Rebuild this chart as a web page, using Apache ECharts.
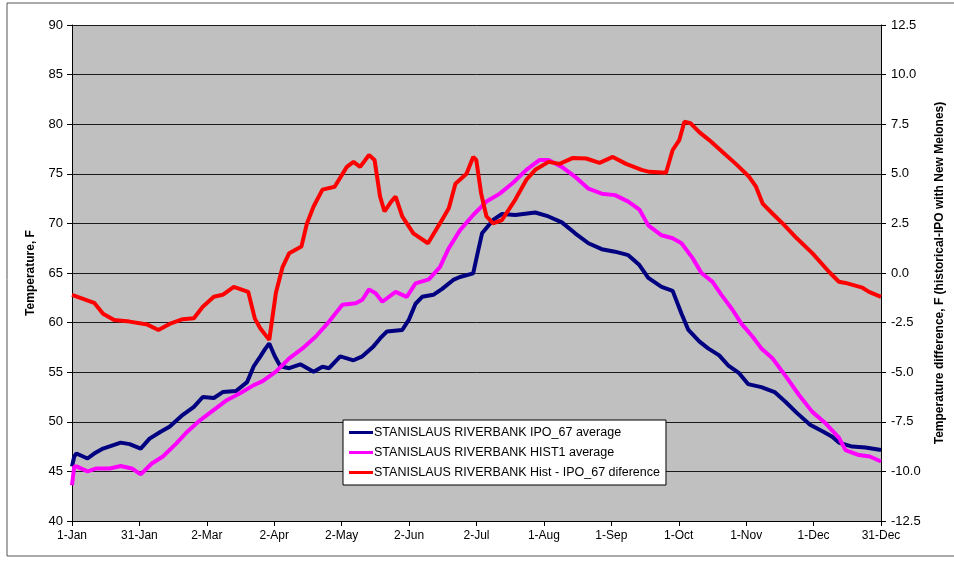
<!DOCTYPE html>
<html>
<head>
<meta charset="utf-8">
<script src="https://cdn.jsdelivr.net/npm/echarts@6/dist/echarts.min.js"></script>
<style>
  html, body { margin: 0; padding: 0; background: #fff; }
  #chart { width: 954px; height: 562px; }
</style>
</head>
<body>
<div id="chart"></div>
<script>
// x tick labels, one every 365/12 days
var xLabels = ['1-Jan','31-Jan','2-Mar','2-Apr','2-May','2-Jun','2-Jul','1-Aug','1-Sep','1-Oct','1-Nov','1-Dec','31-Dec'];

// IPO_67 average (F)
var ipoDays = [0,1,2,7,10,14,22,26,31,35,40,44,50,55,59,64,68,74,79,82,85,87,89,91.5,94,98,103,109,113,116,121,127,131,136,139,142,149,152,155,158,163,167,172,175,181,183,185,190,194,200,209,215,221,227,233,239,245,251,256,260,266,271,275,278,283,287,292,296,301,305,311,317,322,327,333,339,343,346,352,358,365];
var ipoTemp = [45.5,46.5,46.8,46.3,46.8,47.3,47.9,47.75,47.3,48.3,49.0,49.5,50.7,51.5,52.5,52.4,53.0,53.1,54.0,55.6,56.6,57.3,57.9,56.6,55.6,55.4,55.8,55.05,55.55,55.4,56.6,56.2,56.6,57.6,58.4,59.1,59.25,60.3,61.9,62.6,62.8,63.4,64.3,64.6,64.96,67.0,69.0,70.35,70.95,70.85,71.1,70.7,70.1,69.0,68.0,67.4,67.15,66.8,65.8,64.5,63.6,63.2,60.9,59.3,58.1,57.4,56.7,55.7,54.9,53.8,53.5,53.0,52.0,50.9,49.7,49.0,48.5,47.9,47.5,47.4,47.15];

// HIST1 average (F)
var histDays = [0,1,2,7,11,17,22,27,31,36,41,47,52,58,64,70,76,82,86,92,98,104,110,116,122,128,131,134,137,140,146,151,155,161,166,170,175,181,187,193,199,205,211,215,221,227,233,239,245,251,256,260,266,271,275,280,284,289,293,298,302,307,311,316,322,328,334,340,346,349,355,360,365];
var histTemp = [43.6,45.5,45.5,45.0,45.3,45.3,45.55,45.3,44.7,45.8,46.5,47.8,49.0,50.2,51.2,52.2,52.9,53.7,54.1,55.05,56.4,57.4,58.6,60.1,61.8,61.95,62.3,63.35,62.95,62.1,63.1,62.6,63.95,64.35,65.6,67.5,69.3,70.85,72.2,73.0,74.1,75.4,76.4,76.4,75.7,74.7,73.5,73.0,72.85,72.2,71.4,69.8,68.8,68.5,68.0,66.5,65.0,64.1,62.8,61.3,59.9,58.6,57.4,56.4,54.6,52.7,51.0,49.85,48.4,47.15,46.65,46.5,46.0];

// Hist - IPO_67 difference (F, right axis)
var diffDays = [0,10,14,19,26,34,39,44,50,55,59,64,68,73,79.5,82.5,85,89,92,95,98,103.5,106,109,113,118.5,124,127,130,134,136.5,139,141,144,146,149,154,160.6,166,170,173,178,181,182.4,184.6,187,190,194,200,205,209,215,220,226,232,238,244,250,257,260.5,268,271,274,276.3,279,283,287.5,293.5,299.5,305.5,308.6,311.6,316,320.6,327,334,341.6,346,349,356.6,359.6,365];
var diffVal = [-1.1,-1.5,-2.05,-2.37,-2.45,-2.6,-2.87,-2.57,-2.33,-2.28,-1.7,-1.2,-1.1,-0.7,-0.95,-2.3,-2.8,-3.37,-1.0,0.3,1.0,1.33,2.5,3.35,4.2,4.35,5.35,5.6,5.35,5.95,5.7,3.85,3.1,3.6,3.85,2.85,2.0,1.5,2.5,3.26,4.5,5.0,5.85,5.7,4.0,2.85,2.5,2.67,3.7,4.7,5.2,5.6,5.5,5.8,5.77,5.55,5.85,5.5,5.2,5.1,5.05,6.2,6.7,7.62,7.55,7.1,6.7,6.1,5.5,4.85,4.35,3.5,3.0,2.5,1.75,1.0,0.05,-0.44,-0.5,-0.74,-0.95,-1.2];

function pairs(xs, ys) {
    var out = [];
    for (var i = 0; i < xs.length; i++) out.push([xs[i], ys[i]]);
    return out;
}

var step = 365 / 12;
var font = 'Liberation Sans, Arial, sans-serif';

var chart = echarts.init(document.getElementById('chart'), null, {renderer: 'canvas'});
chart.setOption({
    animation: false,
    backgroundColor: '#fff',
    textStyle: {fontFamily: font},
    graphic: [{
        type: 'rect',
        shape: {x: 7, y: 3, width: 960, height: 553},
        style: {fill: null, stroke: '#555', lineWidth: 1},
        z: -1
    }],
    grid: {
        left: 72, right: 69, top: 25, bottom: 41,
        show: true,
        backgroundColor: '#c0c0c0',
        borderWidth: 0
    },
    legend: {
        orient: 'vertical',
        left: 343, top: 420,
        backgroundColor: '#fff',
        borderColor: '#000',
        borderWidth: 1,
        padding: [6, 6, 6, 6],
        itemGap: 7,
        itemWidth: 24,
        itemHeight: 3,
        icon: 'rect',
        textStyle: {fontSize: 12.5, color: '#000', fontFamily: font, padding: [0, 0, 0, -4]},
        data: ['STANISLAUS RIVERBANK IPO_67 average', 'STANISLAUS RIVERBANK HIST1 average', 'STANISLAUS RIVERBANK Hist - IPO_67 diference']
    },
    xAxis: {
        type: 'value',
        min: 0, max: 365, interval: step,
        axisLine: {show: true, onZero: false, lineStyle: {color: '#000', width: 1}},
        axisTick: {show: true, length: 5, lineStyle: {color: '#000'}},
        splitLine: {show: false},
        axisLabel: {
            color: '#000', fontSize: 12, margin: 9, fontFamily: font,
            formatter: function (v) { return xLabels[Math.round(v / step)]; }
        }
    },
    yAxis: [{
        type: 'value',
        min: 40, max: 90, interval: 5,
        name: 'Temperature, F',
        nameLocation: 'middle',
        nameRotate: 90,
        nameGap: 35,
        nameTextStyle: {fontWeight: 'bold', fontSize: 12, color: '#000', fontFamily: font},
        axisLine: {show: true, lineStyle: {color: '#000'}},
        axisTick: {show: true, length: 5, lineStyle: {color: '#000'}},
        axisLabel: {color: '#000', fontSize: 13, margin: 9, fontFamily: font},
        splitLine: {show: true, lineStyle: {color: '#1a1a1a', width: 1}}
    }, {
        type: 'value',
        min: -12.5, max: 12.5, interval: 2.5,
        position: 'right',
        name: 'Temperature difference, F (historical-IPO with New Melones)',
        nameLocation: 'middle',
        nameRotate: 90,
        nameGap: 53,
        nameTextStyle: {fontWeight: 'bold', fontSize: 12, color: '#000', fontFamily: font},
        axisLine: {show: true, lineStyle: {color: '#000'}},
        axisTick: {show: true, length: 5, lineStyle: {color: '#000'}},
        axisLabel: {
            color: '#000', fontSize: 13, margin: 10, fontFamily: font,
            formatter: function (v) { return v.toFixed(1); }
        },
        splitLine: {show: false}
    }],
    series: [{
        name: 'STANISLAUS RIVERBANK IPO_67 average',
        type: 'line',
        yAxisIndex: 0,
        showSymbol: false,
        symbol: 'none',
        color: '#000080',
        lineStyle: {width: 4, color: '#000080'},
        data: pairs(ipoDays, ipoTemp),
        z: 3
    }, {
        name: 'STANISLAUS RIVERBANK HIST1 average',
        type: 'line',
        yAxisIndex: 0,
        showSymbol: false,
        symbol: 'none',
        color: '#ff00ff',
        lineStyle: {width: 4, color: '#ff00ff'},
        data: pairs(histDays, histTemp),
        z: 4
    }, {
        name: 'STANISLAUS RIVERBANK Hist - IPO_67 diference',
        type: 'line',
        yAxisIndex: 1,
        showSymbol: false,
        symbol: 'none',
        color: '#ff0000',
        lineStyle: {width: 4, color: '#ff0000'},
        data: pairs(diffDays, diffVal),
        z: 5
    }]
});
</script>
</body>
</html>
